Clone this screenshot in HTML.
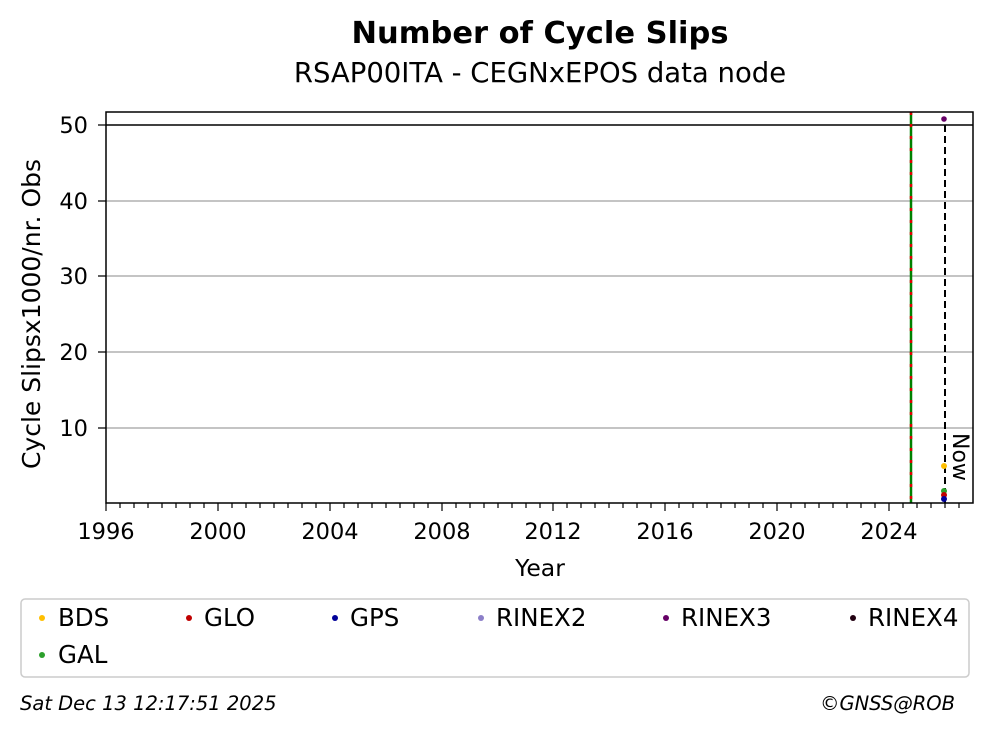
<!DOCTYPE html><html><head><style>body{margin:0;background:#fff}svg text{font-family:"DejaVu Sans","Liberation Sans",sans-serif}</style></head><body>
<svg width="993" height="734" viewBox="0 0 993 734" xmlns="http://www.w3.org/2000/svg">
<rect width="993" height="734" fill="#fff"/>
<text x="540" y="43" font-size="30.5" font-weight="bold" text-anchor="middle">Number of Cycle Slips</text>
<text x="540" y="82" font-size="27.5" text-anchor="middle">RSAP00ITA - CEGNxEPOS data node</text>
<g stroke="#b0b0b0" stroke-width="1.5">
<line x1="106" x2="973" y1="428" y2="428"/><line x1="106" x2="973" y1="352" y2="352"/><line x1="106" x2="973" y1="276" y2="276"/><line x1="106" x2="973" y1="201" y2="201"/></g>
<line x1="106" x2="973" y1="125" y2="125" stroke="#000" stroke-width="1.5"/>
<line x1="911" x2="911" y1="112" y2="503" stroke="#008000" stroke-width="2.5"/>
<line x1="911" x2="911" y1="112" y2="503" stroke="#e00000" stroke-width="2.5" stroke-dasharray="3,9"/>
<line x1="945" x2="945" y1="125" y2="503" stroke="#000" stroke-width="2" stroke-dasharray="7,4"/>
<text transform="translate(953,433) rotate(90)" font-size="22">Now</text>
<circle cx="944" cy="119" r="2.8" fill="#660066"/>
<circle cx="944" cy="466" r="3" fill="#ffbf00"/>
<circle cx="944" cy="491" r="3" fill="#2ca02c"/>
<circle cx="944" cy="495" r="3" fill="#c00000"/>
<circle cx="944" cy="499" r="3" fill="#000099"/>
<rect x="106" y="112" width="867" height="391" fill="none" stroke="#000" stroke-width="1.5"/>
<g stroke="#000" stroke-width="1.2">
<path d="M106 503v8M218 503v8M330 503v8M442 503v8M553 503v8M665 503v8M777 503v8M889 503v8"/>
<path id="mn" d="M120 503v5M134 503v5M148 503v5M162 503v5M176 503v5M190 503v5M204 503v5"/>
<use href="#mn" x="112"/><use href="#mn" x="224"/><use href="#mn" x="336"/><use href="#mn" x="447"/><use href="#mn" x="559"/><use href="#mn" x="671"/>
<path d="M903 503v5M917 503v5M931 503v5M945 503v5M959 503v5"/>
<path d="M106 428h-8M106 352h-8M106 276h-8M106 201h-8M106 125h-8"/>
</g>
<g font-size="22.5" text-anchor="middle">
<text x="106" y="539">1996</text><text x="218" y="539">2000</text><text x="330" y="539">2004</text><text x="442" y="539">2008</text><text x="553" y="539">2012</text><text x="665" y="539">2016</text><text x="777" y="539">2020</text><text x="889" y="539">2024</text>
</g>
<g font-size="22.5" text-anchor="end">
<text x="88" y="436">10</text><text x="88" y="360">20</text><text x="88" y="284">30</text><text x="88" y="209">40</text><text x="88" y="133">50</text>
</g>
<text x="540" y="576" font-size="23.5" text-anchor="middle">Year</text>
<text transform="translate(40,314) rotate(-90)" font-size="25" text-anchor="middle">Cycle Slipsx1000/nr. Obs</text>
<rect x="21" y="599" width="948" height="78" rx="4" fill="#fff" stroke="#ccc" stroke-width="1.5"/>
<g font-size="24.5">
<circle cx="42" cy="618" r="3" fill="#ffbf00"/><text x="58" y="626">BDS</text>
<circle cx="189" cy="618" r="3" fill="#c00000"/><text x="204" y="626">GLO</text>
<circle cx="335" cy="618" r="3" fill="#000099"/><text x="350" y="626">GPS</text>
<circle cx="481" cy="618" r="3" fill="#8c7fc8"/><text x="496" y="626">RINEX2</text>
<circle cx="666" cy="618" r="3" fill="#660066"/><text x="681" y="626">RINEX3</text>
<circle cx="853" cy="618" r="3" fill="#220011"/><text x="868" y="626">RINEX4</text>
<circle cx="42" cy="655" r="3" fill="#2ca02c"/><text x="58" y="663">GAL</text>
</g>
<text x="20" y="710" font-size="19.5" font-style="italic">Sat Dec 13 12:17:51 2025</text>
<text x="955" y="710" font-size="19.5" font-style="italic" text-anchor="end">©GNSS@ROB</text>
</svg></body></html>
